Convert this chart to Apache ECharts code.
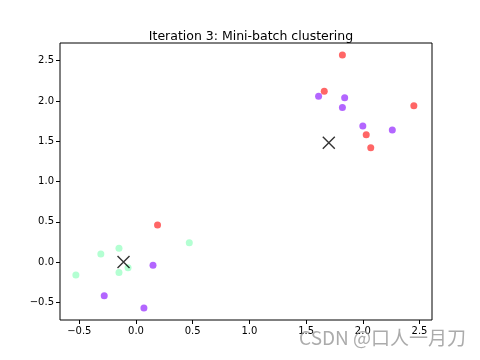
<!DOCTYPE html>
<html><head><meta charset="utf-8">
<script src="https://cdn.jsdelivr.net/npm/echarts@6/dist/echarts.min.js"></script>
<style>html,body{margin:0;padding:0;background:#fff}#c{width:480px;height:360px}</style>
</head><body><div id="c"></div>
<script>
const redPoints = [[1.82,2.57],[1.66,2.12],[2.45,1.94],[2.03,1.58],[2.07,1.42],[0.19,0.46]];
const purplePoints = [[1.61,2.06],[1.84,2.04],[1.82,1.92],[2.00,1.69],[2.26,1.64],[0.15,-0.04],[-0.28,-0.42],[0.07,-0.57]];
const greenPoints = [[0.47,0.24],[-0.15,0.17],[-0.31,0.10],[-0.07,-0.07],[-0.15,-0.13],[-0.53,-0.16]];
const centroids = [[-0.11,0.0],[1.70,1.48]];
const xTicks = [-0.5,0,0.5,1,1.5,2,2.5];
const yTicks = [-0.5,0,0.5,1,1.5,2,2.5];

const fmt = v => (v < 0 ? '\u2212' : '') + Math.abs(v).toFixed(1);
const chart = echarts.init(document.getElementById('c'));
const font = 'DejaVu Sans';
chart.setOption({
  animation: false,
  title: {text: 'Iteration 3: Mini-batch clustering', left: 246, top: 25, textAlign: 'center',
    textStyle: {fontFamily: font, fontSize: 12.5, fontWeight: 'normal', color: '#000'}},
  grid: {left: 60, right: 48, top: 43, bottom: 40, show: true, borderColor: '#000', borderWidth: 1},
  xAxis: {type: 'value', min: -0.67, max: 2.61, splitLine: {show: false},
    axisLine: {show: false, onZero: false},
    axisTick: {show: true, length: 4, customValues: xTicks, lineStyle: {color: '#000'}},
    axisLabel: {customValues: xTicks, formatter: fmt, color: '#000', fontFamily: font, fontSize: 10, margin: 6}},
  yAxis: {type: 'value', min: -0.72, max: 2.72, splitLine: {show: false},
    axisLine: {show: false, onZero: false},
    axisTick: {show: true, length: 4, customValues: yTicks, lineStyle: {color: '#000'}},
    axisLabel: {customValues: yTicks, formatter: fmt, color: '#000', fontFamily: font, fontSize: 10, margin: 6}},
  series: [
    {type: 'scatter', data: redPoints, symbolSize: 7, itemStyle: {color: '#ff0000', opacity: 0.6}},
    {type: 'scatter', data: purplePoints, symbolSize: 7, itemStyle: {color: '#8000ff', opacity: 0.6}},
    {type: 'scatter', data: greenPoints, symbolSize: 7, itemStyle: {color: '#80ffb4', opacity: 0.6}},
    {type: 'scatter', data: centroids, symbol: 'path://M0,0L10,10M10,0L0,10', symbolSize: 12,
      itemStyle: {color: 'none', borderColor: '#000', borderWidth: 1.4}, z: 5}
  ],
  graphic: [{type: 'text', right: 14, top: 328, z: 100, style: {text: 'CSDN @口人一月刀', fill: 'rgba(150,150,150,0.8)',
    font: '19px "Noto Sans CJK SC", sans-serif'}}]
});
</script></body></html>
